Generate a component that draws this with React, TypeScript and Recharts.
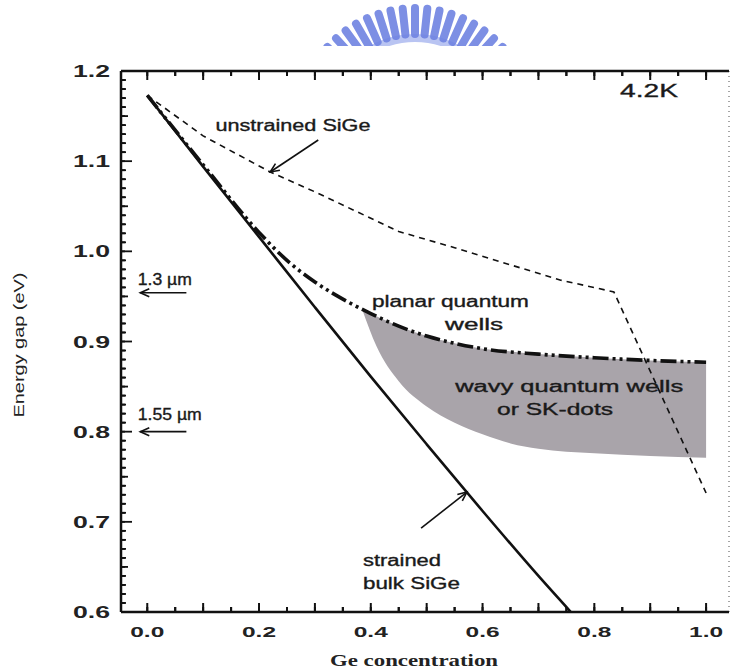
import { Area, ComposedChart, Line, ReferenceDot, ReferenceLine, XAxis, YAxis } from "recharts";

// Ge fraction vs energy gap (eV)
const strainedGe = [0, 0.1, 0.2, 0.3, 0.4, 0.5, 0.6, 0.7, 0.758];
const strainedGap = [1.173, 1.094, 1.016, 0.938, 0.861, 0.786, 0.712, 0.64, 0.6];

const unstrainedGe = [0, 0.1, 0.22, 0.3, 0.45, 0.55, 0.65, 0.74, 0.835, 1.0];
const unstrainedGap = [1.173, 1.128, 1.088, 1.066, 1.022, 1.004, 0.985, 0.968, 0.955, 0.732];

const planarGe = [0, 0.1, 0.2, 0.25, 0.3, 0.35, 0.4, 0.45, 0.5, 0.55, 0.6, 0.7, 0.8, 0.9, 1.0];
const planarGap = [1.173, 1.096, 1.021, 0.99, 0.966, 0.947, 0.931, 0.917, 0.906, 0.898, 0.892, 0.886, 0.882, 0.879, 0.877];

const wavyGe = [0.385, 0.41, 0.45, 0.5, 0.55, 0.6, 0.65, 0.7, 0.8, 0.9, 1.0];
const wavyTop = [0.935, 0.928, 0.917, 0.906, 0.898, 0.892, 0.889, 0.886, 0.882, 0.879, 0.877];
const wavyBottom = [0.935, 0.895, 0.856, 0.828, 0.81, 0.797, 0.787, 0.781, 0.776, 0.773, 0.771];

const xTickLabels = [0, 0.2, 0.4, 0.6, 0.8, 1.0];
const yTickLabels = [0.6, 0.7, 0.8, 0.9, 1.0, 1.1, 1.2];

const strainedData = strainedGe.map((ge, i) => ({ ge, gap: strainedGap[i] }));
const unstrainedData = unstrainedGe.map((ge, i) => ({ ge, gap: unstrainedGap[i] }));
const planarData = planarGe.map((ge, i) => ({ ge, gap: planarGap[i] }));
const wavyData = wavyGe.map((ge, i) => ({ ge, band: [wavyBottom[i], wavyTop[i]] }));

// tick positions: short every 0.05 (x) / 0.01 (y), long every 0.1
const xMinor: number[] = [];
for (let i = 0; i <= 20; i++) xMinor.push(i / 20);
const yMinor: number[] = [];
for (let i = 60; i <= 120; i++) yMinor.push(i / 100);

const X_DOMAIN = [-0.047, 1.041];
const Y_DOMAIN = [0.6, 1.2];
const AX = "#111";
const SANS = '"Liberation Sans", Arial, Helvetica, sans-serif';
const near = (v: number, step: number) => Math.abs(v / step - Math.round(v / step)) < 1e-6;

function BottomLabel(props: any) {
  const { x, y, payload } = props;
  const v = payload.value;
  if (!xTickLabels.some((t) => Math.abs(t - v) < 1e-6)) return <g />;
  return (
    <text x={x} y={Number(y) + 25} textAnchor="middle" fontFamily={SANS} fontWeight="bold" fontSize={15}
      fill="#222" textLength={34} lengthAdjust="spacingAndGlyphs">
      {v.toFixed(1)}
    </text>
  );
}

function LeftLabel(props: any) {
  const { x, y, payload } = props;
  const v = payload.value;
  if (!yTickLabels.some((t) => Math.abs(t - v) < 1e-6)) return <g />;
  return (
    <text x={Number(x) - 11} y={Number(y) + 6} textAnchor="end" fontFamily={SANS} fontWeight="bold" fontSize={16}
      fill="#222" textLength={37} lengthAdjust="spacingAndGlyphs">
      {v.toFixed(1)}
    </text>
  );
}

const NoLabel = () => <g />;

// inward tick: the segment only gives the direction, length is in pixels
const tickMark = (len: number, width = 2) => (p: any) => {
  const { x1, y1, x2, y2 } = p;
  const d = Math.hypot(x2 - x1, y2 - y1) || 1;
  return (
    <line x1={x1} y1={y1} x2={x1 + ((x2 - x1) / d) * len} y2={y1 + ((y2 - y1) / d) * len}
      stroke={AX} strokeWidth={width} />
  );
};

const note = (text: string, width: number, size = 16) => (p: any) => (
  <text x={p.cx} y={p.cy} fontFamily={SANS} fontSize={size} fill="#1a1a1a" stroke="#1a1a1a" strokeWidth={0.35}
    textLength={width} lengthAdjust="spacingAndGlyphs">
    {text}
  </text>
);

const arrow = (p: any) => {
  const { x1, y1, x2, y2 } = p;
  const a = Math.atan2(y2 - y1, x2 - x1);
  const h = 9;
  const w = 4;
  const bx = x2 - h * Math.cos(a);
  const by = y2 - h * Math.sin(a);
  const pts = `${bx - w * Math.sin(a)},${by + w * Math.cos(a)} ${x2},${y2} ${bx + w * Math.sin(a)},${by - w * Math.cos(a)}`;
  return (
    <g>
      <line x1={x1} y1={y1} x2={x2} y2={y2} stroke="#111" strokeWidth={1.6} />
      <polyline points={pts} fill="none" stroke="#111" strokeWidth={1.6} />
    </g>
  );
};

const notes = [
  { x: 0.846, y: 1.171, text: "4.2K", w: 58, size: 19 },
  { x: 0.122, y: 1.133, text: "unstrained SiGe", w: 155, size: 16 },
  { x: 0.402, y: 0.938, text: "planar quantum", w: 157, size: 16 },
  { x: 0.533, y: 0.913, text: "wells", w: 58, size: 16 },
  { x: 0.551, y: 0.844, text: "wavy quantum wells", w: 228, size: 16 },
  { x: 0.626, y: 0.8185, text: "or SK-dots", w: 116, size: 16 },
  { x: 0.386, y: 0.651, text: "strained", w: 78, size: 16 },
  { x: 0.386, y: 0.6255, text: "bulk SiGe", w: 97, size: 16 },
  { x: -0.017, y: 0.963, text: "1.3 µm", w: 54, size: 16 },
  { x: -0.017, y: 0.813, text: "1.55 µm", w: 64, size: 16 },
];

const arrows = [
  [{ x: 0.306, y: 1.1235 }, { x: 0.22, y: 1.088 }],
  [{ x: 0.49, y: 0.693 }, { x: 0.572, y: 0.733 }],
  [{ x: 0.07, y: 0.954 }, { x: -0.0125, y: 0.954 }],
  [{ x: 0.07, y: 0.8 }, { x: -0.0125, y: 0.8 }],
];

function Logo() {
  const rays = [];
  const cx = 415;
  const cy = 126;
  for (let i = 0; i < 17; i++) {
    const a = Math.PI * (1.5 + ((i - 8) * 6) / 180);
    rays.push(
      <line key={i} x1={cx + 92 * Math.cos(a)} y1={cy + 92 * Math.sin(a)} x2={cx + 118 * Math.cos(a)} y2={cy + 118 * Math.sin(a)}
        stroke="#6f83e2" strokeWidth={8} strokeLinecap="round" />
    );
  }
  return (
    <svg width={731} height={46} style={{ position: "absolute", left: 0, top: 0 }}>
      <circle cx={cx} cy={cy} r={88} fill="none" stroke="#b9c4f2" strokeWidth={8} />
      <g opacity={0.9}>{rays}</g>
    </svg>
  );
}

const tickStroke = { stroke: AX, strokeWidth: 2 };
const frame = { stroke: AX, strokeWidth: 2.5 };

export default function App() {
  return (
    <div style={{ position: "absolute", left: 0, top: 0, width: 731, height: 671, background: "#fff" }}>
      <Logo />
      <ComposedChart width={731} height={671} margin={{ top: 70, right: 2, bottom: 0, left: 0 }}>
        <XAxis dataKey="ge" type="number" domain={X_DOMAIN} allowDataOverflow ticks={xMinor} interval={0}
          tick={<BottomLabel />} tickLine={tickStroke} tickSize={-5} tickMargin={5} height={59} axisLine={frame} />
        <XAxis xAxisId="top" orientation="top" dataKey="ge" type="number" domain={X_DOMAIN} allowDataOverflow
          ticks={xMinor} interval={0} tick={<NoLabel />} tickLine={tickStroke} tickSize={-5} height={1}
          axisLine={frame} />
        <YAxis type="number" domain={Y_DOMAIN} allowDataOverflow ticks={yMinor} interval={0} width={121}
          tick={<LeftLabel />} tickLine={{ stroke: AX, strokeWidth: 1.8 }} tickSize={-4} tickMargin={4}
          axisLine={frame} />
        <ReferenceLine x={1.041} stroke="#888" strokeWidth={1.5} strokeDasharray="1 4" />

        {xMinor.map((v) => (
          <ReferenceLine key={"xb" + v} segment={[{ x: v, y: 0.6 }, { x: v, y: 0.7 }]}
            shape={tickMark(near(v, 0.1) ? 9 : 5)} ifOverflow="visible" />
        ))}
        {xMinor.map((v) => (
          <ReferenceLine key={"xt" + v} segment={[{ x: v, y: 1.2 }, { x: v, y: 1.1 }]}
            shape={tickMark(near(v, 0.1) ? 9 : 5)} ifOverflow="visible" />
        ))}
        {yMinor.map((v) => (
          <ReferenceLine key={"yl" + v} segment={[{ x: X_DOMAIN[0], y: v }, { x: 0.5, y: v }]}
            shape={tickMark(near(v, 0.1) ? 11 : near(v, 0.05) ? 7 : 5, 1.8)} ifOverflow="visible" />
        ))}

        <Area data={wavyData} dataKey="band" type="monotone" fill="#a9a4aa" fillOpacity={1} stroke="none"
          isAnimationActive={false} />
        <Line data={unstrainedData} dataKey="gap" type="linear" stroke="#111" strokeWidth={1.6}
          strokeDasharray="6 5" dot={false} isAnimationActive={false} />
        <Line data={strainedData} dataKey="gap" type="monotone" stroke="#111" strokeWidth={2.6}
          dot={false} isAnimationActive={false} />
        <Line data={planarData} dataKey="gap" type="monotone" stroke="#111" strokeWidth={3.6}
          strokeDasharray="16 4 3 4 3 4" dot={false} isAnimationActive={false} />

        {arrows.map((seg, i) => (
          <ReferenceLine key={"a" + i} segment={seg} shape={arrow} ifOverflow="visible" />
        ))}
        {notes.map((n, i) => (
          <ReferenceDot key={"n" + i} x={n.x} y={n.y} r={0} ifOverflow="visible" shape={note(n.text, n.w, n.size)} />
        ))}

        <text x={24} y={345} transform="rotate(-90 24 345)" textAnchor="middle" fontFamily={SANS} fontSize={15}
          fill="#222" textLength={145} lengthAdjust="spacingAndGlyphs">
          Energy gap (eV)
        </text>
        <text x={414} y={666} textAnchor="middle" fontFamily='"Liberation Serif", "Times New Roman", serif'
          fontWeight="bold" fontSize={17} fill="#222" textLength={168} lengthAdjust="spacingAndGlyphs">
          Ge concentration
        </text>
      </ComposedChart>
    </div>
  );
}
